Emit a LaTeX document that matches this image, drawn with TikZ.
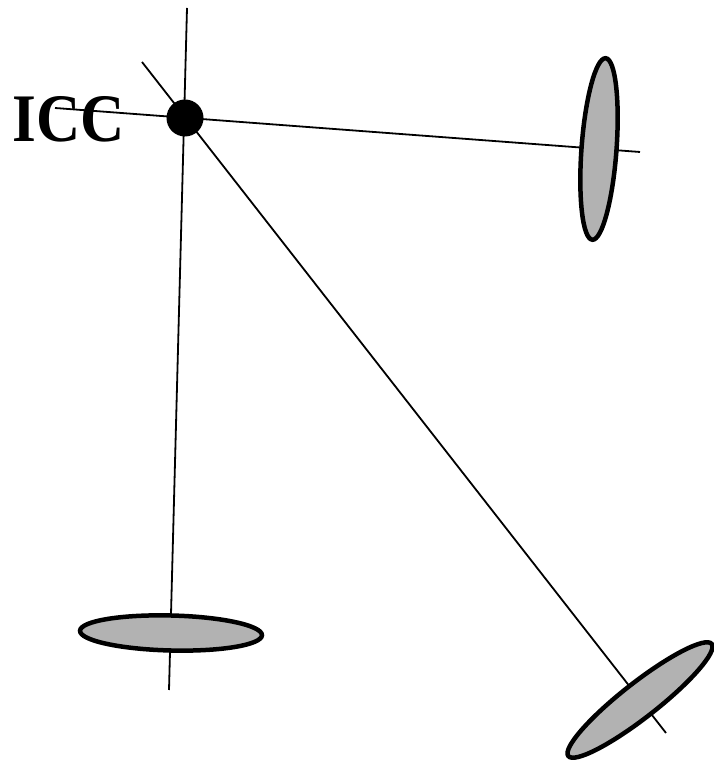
\documentclass[tikz,border=0pt]{standalone}
\usepackage{fontspec}
\setmainfont{Liberation Serif}
\usetikzlibrary{shapes.geometric}
\definecolor{wheelgray}{gray}{0.7}
\begin{document}
\begin{tikzpicture}[x=1pt,y=1pt,
  axisline/.style={line width=1.8pt},
  wheel/.style={ellipse,draw,line width=4.5pt,fill=wheelgray,inner sep=0pt,minimum width=182pt,minimum height=35pt},
  iccdot/.style={circle,fill=black,inner sep=0pt,minimum size=37pt}]
\useasboundingbox (0,0) rectangle (713,762);
\node[inner sep=0pt,xscale=0.9,font=\bfseries\fontsize{68}{68}\selectfont] (icclabel) at (69,643) {ICC};
% end points of axle lines
\coordinate (v1) at (187,754);
\coordinate (v2) at (169,72);
\coordinate (h1) at (55,654);
\coordinate (h2) at (640,610);
\coordinate (d1) at (142,700);
\coordinate (d2) at (666,29);
\draw[axisline] (v1) -- (v2);
\draw[axisline] (h1) -- (h2);
\draw[axisline] (d1) -- (d2);
\node[iccdot] (icc) at (185,644) {};
\node[wheel,rotate=85.8] (w1) at (599,613) {};
\node[wheel,rotate=-1.4] (w2) at (171,129) {};
\node[wheel,rotate=38] (w3) at (640,62) {};
\end{tikzpicture}
\end{document}
